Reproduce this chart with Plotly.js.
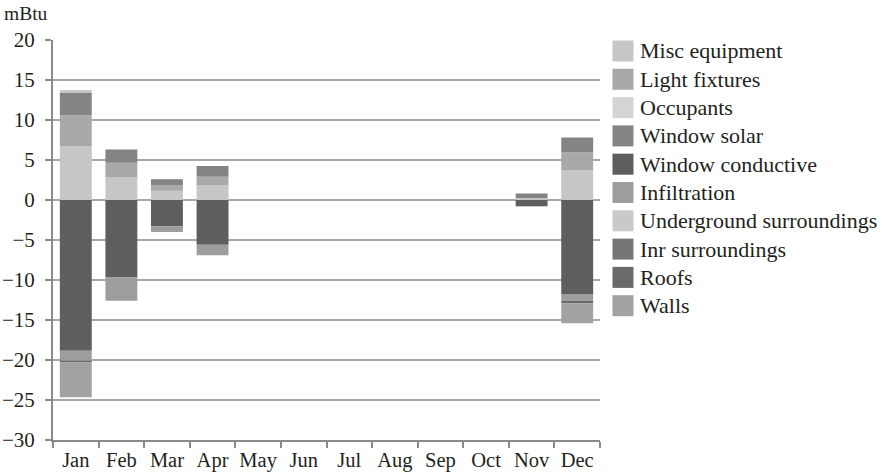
<!DOCTYPE html>
<html>
<head>
<meta charset="utf-8">
<script src="https://cdn.plot.ly/plotly-3.0.1.min.js"></script>
<style>
html,body{margin:0;padding:0;background:#fff;}
#chart{width:888px;height:475px;}
</style>
</head>
<body>
<div id="chart"></div>
<script>
// Categories
const months = ["Jan","Feb","Mar","Apr","May","Jun","Jul","Aug","Sep","Oct","Nov","Dec"];

// Series values (mBtu)
const miscEquipment      = [6.75, 2.8, 1.15, 1.8, 0, 0, 0, 0, 0, 0, 0.2, 3.75];
const lightFixtures      = [3.85, 1.85, 0.65, 1.1, 0, 0, 0, 0, 0, 0, 0.05, 2.2];
const occupants          = [0, 0, 0, 0, 0, 0, 0, 0, 0, 0, 0, 0];
const windowSolar        = [2.85, 1.65, 0.8, 1.35, 0, 0, 0, 0, 0, 0, 0.55, 1.85];
const windowConductive   = [-18.85, -9.7, -3.3, -5.6, 0, 0, 0, 0, 0, 0, -0.75, -11.75];
const infiltration       = [-1.25, -2.9, -0.7, -1.3, 0, 0, 0, 0, 0, 0, -0.05, -0.85];
const undergroundSurr    = [0.3, 0, 0, 0, 0, 0, 0, 0, 0, 0, 0, 0];
const inrSurroundings    = [0, 0, 0, 0, 0, 0, 0, 0, 0, 0, 0, 0];
const roofs              = [-0.2, 0, 0, 0, 0, 0, 0, 0, 0, 0, 0, -0.3];
const walls              = [-4.35, 0, 0, 0, 0, 0, 0, 0, 0, 0, 0, -2.5];

const seriesNames = ["Misc equipment","Light fixtures","Occupants","Window solar","Window conductive",
                     "Infiltration","Underground surroundings","Inr surroundings","Roofs","Walls"];
const seriesValues = [miscEquipment, lightFixtures, occupants, windowSolar, windowConductive,
                      infiltration, undergroundSurr, inrSurroundings, roofs, walls];
const seriesColors = ["#c6c6c6","#a9a9ab","#d4d4d4","#848486","#5e5e60",
                      "#9d9d9f","#c9c9c9","#767678","#6a6a6c","#a2a2a4"];

const yTicks = [20,15,10,5,0,-5,-10,-15,-20,-25,-30];

const FONT = "'Liberation Serif', 'DejaVu Serif', serif";
const TXT = "#231f20";

const traces = seriesNames.map((name, i) => ({
  type: "bar",
  name: name,
  x: months,
  y: seriesValues[i],
  marker: {color: seriesColors[i], line: {width: 0}},
  showlegend: false,
  hoverinfo: "x+y+name"
}));

// custom legend (swatches + labels)
const shapes = [];
const annotations = [];
const legX0 = 612.5, legSw = 21, rowTop = 51, rowStep = 28.3;
const plotL = 52.7, plotR = 600, plotT = 40, plotB = 440;
const pw = plotR - plotL, ph = plotB - plotT;
function px2paperX(px){ return (px - plotL) / pw; }
function px2paperY(py){ return (plotB - py) / ph; }
seriesNames.forEach((name, i) => {
  const cy = rowTop + i * rowStep;
  shapes.push({
    type: "rect", xref: "paper", yref: "paper",
    x0: px2paperX(legX0), x1: px2paperX(legX0 + legSw),
    y0: px2paperY(cy + legSw/2), y1: px2paperY(cy - legSw/2),
    fillcolor: seriesColors[i], line: {width: 0}
  });
  annotations.push({
    xref: "paper", yref: "paper",
    x: px2paperX(638), y: px2paperY(cy),
    xanchor: "left", yanchor: "middle",
    text: name, showarrow: false,
    font: {family: FONT, size: 22, color: TXT}
  });
});
annotations.push({
  xref: "paper", yref: "paper",
  x: px2paperX(26), y: 1, yshift: 27,
  xanchor: "center", yanchor: "middle",
  text: "mBtu", showarrow: false,
  font: {family: FONT, size: 19.5, color: TXT}
});

const layout = {
  width: 888, height: 475,
  margin: {l: plotL, r: 888 - plotR, t: plotT, b: 475 - plotB, pad: 0},
  paper_bgcolor: "#fff", plot_bgcolor: "#fff",
  barmode: "relative",
  bargap: 0.3,
  showlegend: false,
  font: {family: FONT, size: 20, color: TXT},
  xaxis: {
    type: "category",
    categoryorder: "array", categoryarray: months,
    tickson: "boundaries",
    tickangle: 0,
    ticks: "outside", ticklen: 6, tickwidth: 2, tickcolor: "#8a8a8a",
    showline: true, linecolor: "#8a8a8a", linewidth: 2,
    showgrid: false,
    tickfont: {family: FONT, size: 20.5, color: TXT},
    fixedrange: true
  },
  yaxis: {
    range: [-30, 20],
    tickvals: yTicks,
    ticks: "outside", ticklen: 6, tickwidth: 2, tickcolor: "#8a8a8a",
    ticklabelstandoff: 6,
    showline: true, linecolor: "#8a8a8a", linewidth: 2,
    showgrid: true, gridcolor: "#a8a8a8", gridwidth: 1.5,
    zeroline: false,
    tickfont: {family: FONT, size: 21, color: TXT},
    fixedrange: true
  },
  shapes: shapes,
  annotations: annotations
};

Plotly.newPlot("chart", traces, layout, {displayModeBar: false, staticPlot: true});
</script>
</body>
</html>
